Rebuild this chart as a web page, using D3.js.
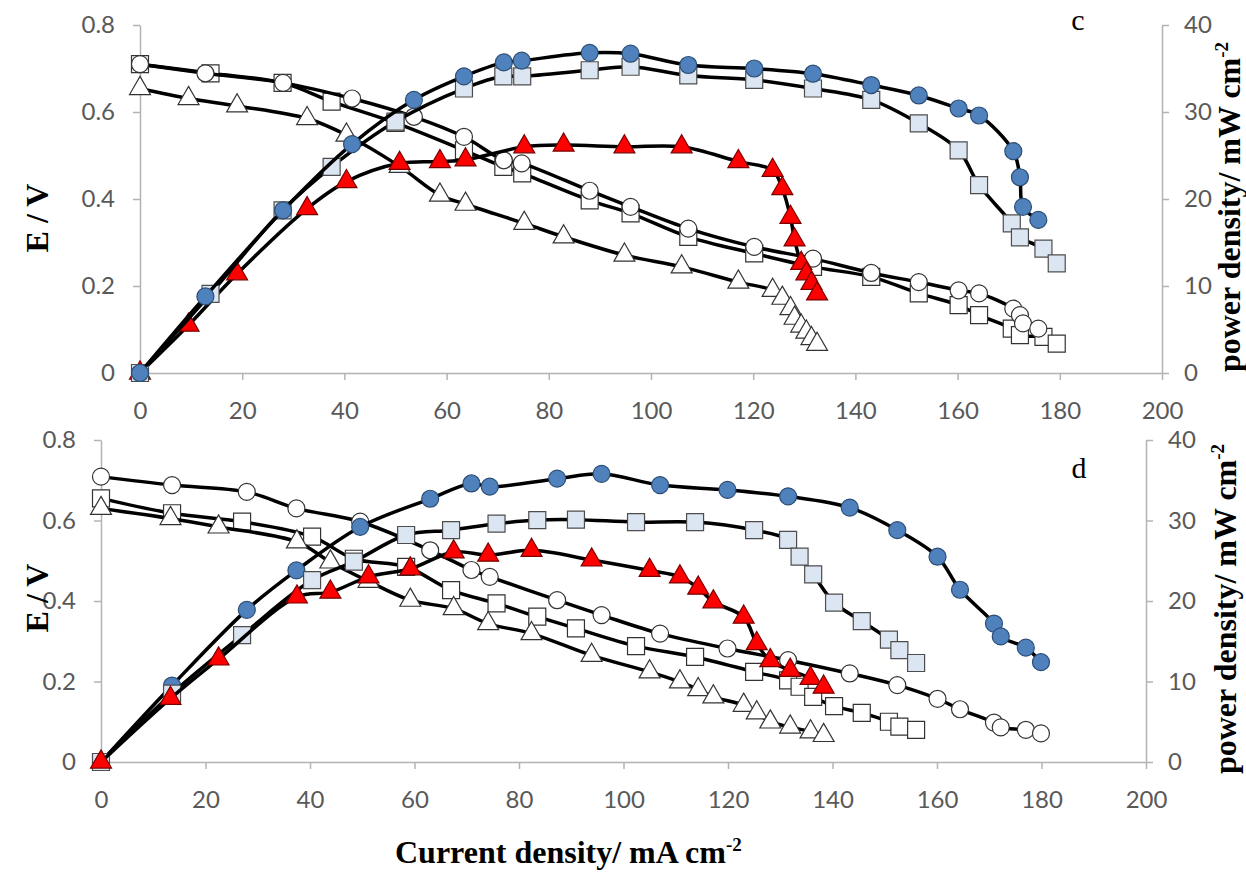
<!DOCTYPE html>
<html>
<head>
<meta charset="utf-8">
<script src="https://cdn.jsdelivr.net/npm/d3@7"></script>
<style>
  body { margin: 0; background: #fff; }
  svg { display: block; }
  .tick-label { font-family: Lato, "Open Sans", sans-serif; font-size: 24px; fill: #595959; }
  .title { font-family: "Liberation Serif", "Times New Roman", serif; font-weight: bold; font-size: 32px; fill: #000; }
  .panel-tag { font-family: "Liberation Serif", serif; font-size: 30px; fill: #000; }
</style>
</head>
<body>
<script>
// ---- data ----
const xTicks = [0, 20, 40, 60, 80, 100, 120, 140, 160, 180, 200];
const eTicks = [0, 0.2, 0.4, 0.6, 0.8];
const pTicks = [0, 10, 20, 30, 40];

// panel c
const cCircleI = [0, 12.8, 28, 41.5, 53.6, 63.4, 71.2, 74.7, 88, 96, 107.3, 120.2, 131.7, 143.1, 152.4, 160.2, 164.2, 170.9, 172.2, 172.8, 175.8];
const cCircleE = [0.710, 0.689, 0.667, 0.631, 0.589, 0.543, 0.489, 0.482, 0.419, 0.382, 0.332, 0.290, 0.263, 0.230, 0.209, 0.190, 0.183, 0.148, 0.133, 0.114, 0.102];
const cCircleP = [0, 8.8, 18.7, 26.3, 31.4, 34.1, 35.7, 35.9, 36.8, 36.7, 35.4, 35.0, 34.4, 33.1, 31.9, 30.4, 29.6, 25.5, 22.5, 19.1, 17.6];

const cSquareI = [0, 13.8, 27.9, 37.5, 50, 63.4, 71.1, 74.8, 88, 96, 107.3, 120.2, 131.7, 143.1, 152.4, 160.2, 164.2, 170.6, 172.2, 176.8, 179.4];
const cSquareE = [0.710, 0.689, 0.667, 0.624, 0.575, 0.512, 0.474, 0.459, 0.397, 0.367, 0.313, 0.275, 0.244, 0.221, 0.183, 0.156, 0.133, 0.102, 0.087, 0.083, 0.0675];
const cSquareP = [0, 9.1, 18.7, 23.7, 28.9, 32.7, 34.1, 34.1, 34.8, 35.2, 34.2, 33.7, 32.7, 31.4, 28.7, 25.6, 21.6, 17.2, 15.6, 14.3, 12.6];

const cTriI = [0, 9.5, 19, 32.7, 40.4, 50.8, 58.7, 63.7, 75.2, 82.9, 94.8, 106, 117.1, 123.8, 125.7, 127.3, 128.1, 129.4, 130.4, 131.4, 132.5];
const cTriE = [0.654, 0.631, 0.614, 0.585, 0.547, 0.475, 0.409, 0.388, 0.344, 0.313, 0.271, 0.244, 0.209, 0.190, 0.172, 0.148, 0.126, 0.108, 0.094, 0.079, 0.066];
const cTriP = [0, 5.5, 11.4, 18.9, 22.0, 24.1, 24.3, 24.5, 26.0, 26.2, 26.0, 26.0, 24.3, 23.3, 21.2, 17.9, 15.3, 12.6, 11.4, 10.3, 9.1];

// panel d
const dCircleI = [0, 13.6, 27.9, 37.4, 49.6, 63, 70.9, 74.4, 87.3, 95.8, 107, 119.9, 131.5, 143.3, 152.4, 160.1, 164.4, 170.9, 172.2, 177, 179.9];
const dCircleE = [0.709, 0.688, 0.671, 0.630, 0.597, 0.526, 0.477, 0.460, 0.402, 0.365, 0.319, 0.282, 0.253, 0.220, 0.191, 0.157, 0.131, 0.098, 0.086, 0.080, 0.071];
const dCircleP = [0, 9.5, 18.9, 23.8, 29.2, 32.7, 34.6, 34.2, 35.2, 35.8, 34.4, 33.8, 33.0, 31.6, 28.8, 25.5, 21.4, 17.2, 15.6, 14.2, 12.4];

const dSquareI = [0, 13.6, 27, 40.4, 48.4, 58.4, 67, 75.7, 83.5, 90.9, 102.4, 113.7, 125, 131.5, 133.7, 136.3, 140.3, 145.6, 150.8, 152.8, 156];
const dSquareE = [0.655, 0.618, 0.597, 0.560, 0.505, 0.485, 0.427, 0.394, 0.361, 0.332, 0.288, 0.261, 0.224, 0.203, 0.187, 0.162, 0.139, 0.122, 0.100, 0.088, 0.080];
const dSquareP = [0, 8.5, 15.75, 22.6, 24.9, 28.2, 28.8, 29.6, 30.05, 30.1, 29.8, 29.8, 28.8, 27.6, 25.5, 23.3, 19.8, 17.5, 15.2, 13.9, 12.3];

const dTriI = [0, 13.3, 22.5, 37.5, 43.9, 51.2, 59.2, 67.5, 74.1, 82.4, 93.9, 105, 110.8, 114.3, 117.2, 123, 125.5, 128.1, 131.9, 135.8, 138.3];
const dTriE = [0.630, 0.605, 0.584, 0.547, 0.497, 0.449, 0.402, 0.381, 0.344, 0.319, 0.265, 0.224, 0.199, 0.180, 0.162, 0.141, 0.122, 0.0995, 0.087, 0.075, 0.066];
const dTriP = [0, 7.9, 12.8, 20.5, 21.1, 23.0, 24.0, 26.1, 25.7, 26.3, 25.1, 23.8, 23.0, 21.6, 19.9, 18.0, 14.7, 12.6, 11.4, 10.4, 9.3];

// ---- marker styles ----
const styles = {
  openCircle:  { shape: d3.symbolCircle,   size: 227, fill: "#ffffff", stroke: "#333333" },
  openSquare:  { shape: d3.symbolSquare,   size: 289, fill: "#ffffff", stroke: "#333333" },
  openTri:     { shape: d3.symbolTriangle, size: 190, fill: "#ffffff", stroke: "#333333" },
  blueCircle:  { shape: d3.symbolCircle,   size: 227, fill: "#4f81bd", stroke: "#2c4d75" },
  lightSquare: { shape: d3.symbolSquare,   size: 289, fill: "#dce6f2", stroke: "#4d4d4d" },
  redTri:      { shape: d3.symbolTriangle, size: 190, fill: "#ff0000", stroke: "#7a0000" }
};

const svg = d3.select("body").append("svg")
  .attr("width", 1246)
  .attr("height", 876);

function drawPanel(p) {
  const x = d3.scaleLinear().domain([0, 200]).range([p.left, p.right]);
  const yE = d3.scaleLinear().domain([0, 0.8]).range([p.bottom, p.top]);
  const yP = d3.scaleLinear().domain([0, 40]).range([p.bottom, p.top]);

  const g = svg.append("g");

  // axes
  const axisColor = "#b3b3b3";
  const xAxis = g.append("g")
    .attr("transform", `translate(0,${p.bottom})`)
    .call(d3.axisBottom(x).tickValues(xTicks).tickSize(7).tickSizeOuter(0).tickPadding(p.xPad));
  const lAxis = g.append("g")
    .attr("transform", `translate(${p.left},0)`)
    .call(d3.axisLeft(yE).tickValues(eTicks).tickSize(7).tickSizeOuter(0).tickPadding(18)
      .tickFormat(d => d === 0 ? "0" : d3.format(".1f")(d)));
  const rAxis = g.append("g")
    .attr("transform", `translate(${p.right},0)`)
    .call(d3.axisRight(yP).tickValues(pTicks).tickSize(7).tickSizeOuter(0).tickPadding(15));

  [xAxis, lAxis, rAxis].forEach(a => {
    a.selectAll("path, line").attr("stroke", axisColor).attr("stroke-width", 1.5);
    a.selectAll("text").attr("class", "tick-label").attr("fill", null);
    a.attr("font-family", null).attr("font-size", null);
  });

  // series
  const line = d3.line().curve(d3.curveCatmullRom.alpha(0.5));
  p.series.forEach(s => {
    const yS = s.axis === "E" ? yE : yP;
    const pts = s.xs.map((v, i) => [x(v), yS(s.ys[i])]);
    g.append("path")
      .attr("d", line(pts))
      .attr("fill", "none")
      .attr("stroke", "#000")
      .attr("stroke-width", 3.5)
      .attr("stroke-linejoin", "round");
    const st = styles[s.style];
    g.append("g").selectAll("path")
      .data(pts)
      .join("path")
      .attr("transform", d => `translate(${d[0]},${d[1]})`)
      .attr("d", d3.symbol().type(st.shape).size(st.size))
      .attr("fill", st.fill)
      .attr("stroke", st.stroke)
      .attr("stroke-width", 1.2);
  });

  // titles
  g.append("text")
    .attr("class", "title")
    .attr("text-anchor", "middle")
    .attr("transform", `translate(${p.eTitleX},${p.eTitleY}) rotate(-90)`)
    .text("E / V");

  const pt = g.append("text")
    .attr("class", "title")
    .attr("text-anchor", "middle")
    .attr("transform", `translate(${p.pTitleX},${p.pTitleY}) rotate(-90)`);
  pt.append("tspan").text("power density/ mW cm");
  pt.append("tspan").attr("font-size", "19px").attr("dy", -12).text("-2");

  g.append("text")
    .attr("class", "panel-tag")
    .attr("x", p.tagX)
    .attr("y", p.tagY)
    .attr("text-anchor", "middle")
    .text(p.tag);
}

drawPanel({
  left: 140, right: 1162, top: 25, bottom: 373, xPad: 22,
  eTitleX: 48, eTitleY: 218, pTitleX: 1240, pTitleY: 207,
  tag: "c", tagX: 1078, tagY: 30,
  series: [
    { xs: cTriI, ys: cTriE, axis: "E", style: "openTri" },
    { xs: cSquareI, ys: cSquareE, axis: "E", style: "openSquare" },
    { xs: cCircleI, ys: cCircleE, axis: "E", style: "openCircle" },
    { xs: cTriI, ys: cTriP, axis: "P", style: "redTri" },
    { xs: cSquareI, ys: cSquareP, axis: "P", style: "lightSquare" },
    { xs: cCircleI, ys: cCircleP, axis: "P", style: "blueCircle" }
  ]
});

drawPanel({
  left: 101, right: 1146, top: 440, bottom: 762, xPad: 22,
  eTitleX: 48, eTitleY: 598, pTitleX: 1236, pTitleY: 609,
  tag: "d", tagX: 1079, tagY: 478,
  series: [
    { xs: dCircleI, ys: dCircleE, axis: "E", style: "openCircle" },
    { xs: dSquareI, ys: dSquareE, axis: "E", style: "openSquare" },
    { xs: dTriI, ys: dTriE, axis: "E", style: "openTri" },
    { xs: dCircleI, ys: dCircleP, axis: "P", style: "blueCircle" },
    { xs: dSquareI, ys: dSquareP, axis: "P", style: "lightSquare" },
    { xs: dTriI, ys: dTriP, axis: "P", style: "redTri" }
  ]
});

// shared x title
const xt = svg.append("text")
  .attr("class", "title")
  .attr("font-size", "33px")
  .attr("x", 395)
  .attr("y", 863);
xt.append("tspan").text("Current density/ mA cm");
xt.append("tspan").attr("font-size", "19px").attr("dy", -12).text("-2");
</script>
</body>
</html>
